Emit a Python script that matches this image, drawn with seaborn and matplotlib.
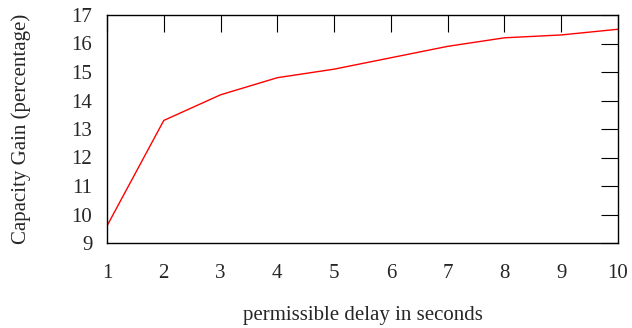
import numpy as np
import pandas as pd
import matplotlib
matplotlib.use("Agg")
import matplotlib.pyplot as plt
import seaborn as sns

# datos
delay_s = [1, 2, 3, 4, 5, 6, 7, 8, 9, 10]
capacity_gain = [9.6, 13.3, 14.2, 14.8, 15.1, 15.5, 15.9, 16.2, 16.3, 16.5]

df = pd.DataFrame({"delay": delay_s, "gain": capacity_gain})

sns.set_style("white")
plt.rcParams['font.family'] = ['Liberation Serif', 'DejaVu Serif']
plt.rcParams['font.size'] = 15

fig = plt.figure(figsize=(6.32, 3.28), dpi=100)
ax = fig.add_axes([107 / 632, 1 - 243 / 328, (618 - 107) / 632, (243 - 15) / 328])

sns.lineplot(data=df, x="delay", y="gain", color="#ff0000", linewidth=1.0, ax=ax)

ax.set_xlim(1, 10)
ax.set_ylim(9, 17)
ax.set_xticks(range(1, 11))
ax.set_yticks(range(9, 18))
ax.tick_params(direction="in", length=12, width=0.8, color="black",
               top=True, right=True, labelsize=15)
ax.tick_params(axis="x", pad=15)
ax.tick_params(axis="y", pad=10.5)
for s in ax.spines.values():
    s.set_color("black")
    s.set_linewidth(1.0)

ax.set_xlabel("permissible delay in seconds", fontsize=15, labelpad=16.5)
ax.set_ylabel("Capacity Gain (percentage)", fontsize=15, labelpad=29.5)

fig.savefig("out.png", dpi=100)
